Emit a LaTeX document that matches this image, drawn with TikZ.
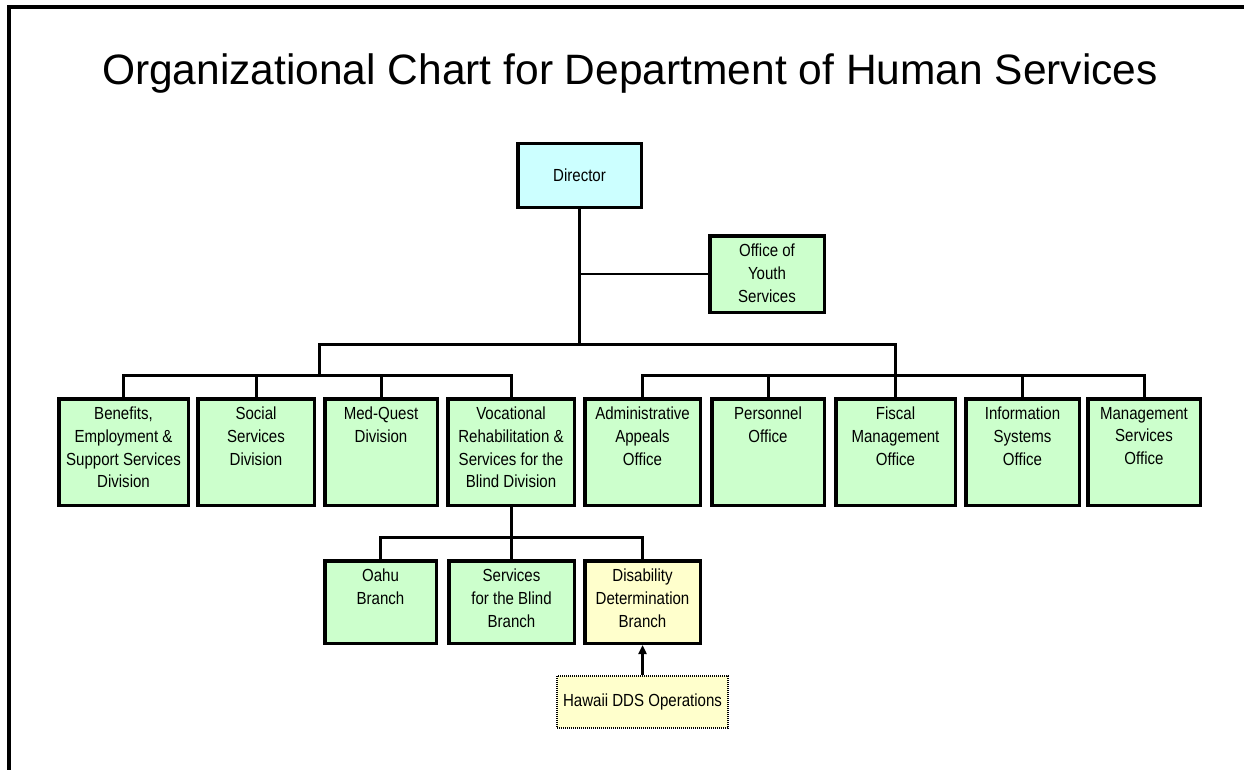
\documentclass[tikz,border=0pt]{standalone}
\usepackage{fontspec}
\setmainfont{Liberation Sans}
\newfontfamily\boxfont[FakeStretch=0.86]{Liberation Sans}
\usepackage{tikz}
\usetikzlibrary{arrows.meta}

\definecolor{boxgreen}{HTML}{CCFFCC}
\definecolor{boxcyan}{HTML}{CCFFFF}
\definecolor{boxyellow}{HTML}{FFFFCC}

% text block pinned to the top of a box
\newcommand{\topbox}[3]{\parbox[c][#2][t]{#1}{\centering\vspace{8.5pt}#3}}

\tikzset{
  orgbox/.style={draw, line width=3.5pt, inner sep=0pt,
    font=\boxfont\fontsize{17.5}{22.6}\selectfont},
  greenbox/.style={orgbox, fill=boxgreen},
  conn/.style={line width=3pt},
  thinconn/.style={line width=1.5pt}
}

\begin{document}
\begin{tikzpicture}[x=1pt, y=-1pt]
                \useasboundingbox (0,0) rectangle (1244,770);
                \draw[line width=4pt] (8.8,775) -- (8.8,7) -- (1250,7);

                % Title
                \node[anchor=base, font=\fontsize{42.5}{50}\selectfont] (title) at (630,85)
                    {Organizational Chart for Department of Human Services};

                % Nodes
                \node[orgbox, fill=boxcyan, minimum width=123.5pt, minimum height=63.5pt] (dir) at (579.5,175.5) {Director};
                \node[greenbox] (ys) at (767,274) {\topbox{114.5pt}{76.5pt}{Office of\\ Youth\\ Services}};

                \node[greenbox] (ben) at (123.5,452) {\topbox{129.5pt}{106.5pt}{Benefits,\\ Employment \&\\ Support Services\\ Division}};
                \node[greenbox] (soc) at (256,452) {\topbox{116.5pt}{106.5pt}{Social\\ Services\\ Division}};
                \node[greenbox] (med) at (381,452) {\topbox{112.5pt}{106.5pt}{Med-Quest\\ Division}};
                \node[greenbox] (voc) at (511,452) {\topbox{126.5pt}{106.5pt}{Vocational\\ Rehabilitation \&\\ Services for the\\ Blind Division}};
                \node[greenbox] (adm) at (642.5,452) {\topbox{115.5pt}{106.5pt}{Administrative\\ Appeals\\ Office}};
                \node[greenbox] (per) at (768,452) {\topbox{112.5pt}{106.5pt}{Personnel\\ Office}};
                \node[greenbox] (fis) at (895.5,452) {\topbox{119.5pt}{106.5pt}{Fiscal\\ Management\\ Office}};
                \node[greenbox] (inf) at (1022.5,452) {\topbox{113.5pt}{106.5pt}{Information\\ Systems\\ Office}};
                \node[greenbox] (mgt) at (1144,452) {\topbox{112.5pt}{106.5pt}{Management\\ Services\\ Office}};

                \node[greenbox] (oahu) at (380.5,602) {\topbox{111.5pt}{82.5pt}{Oahu\\ Branch}};
                \node[greenbox] (sbb) at (511.5,602) {\topbox{125.5pt}{82.5pt}{Services\\ for the Blind\\ Branch}};
                \node[orgbox, fill=boxyellow] (dbb) at (642.5,602) {\topbox{115.5pt}{82.5pt}{Disability\\ Determination\\ Branch}};

                \node[orgbox, fill=boxyellow, line width=2pt, dash pattern=on 1pt off 1pt,
                      minimum width=171pt, minimum height=52pt] (dds) at (642.5,702) {Hawaii DDS Operations};

                % Junctions
                \coordinate (jtop) at (579.5,344);
                \coordinate (jleft) at (319,375);
                \coordinate (jright) at (895.5,375);
                \coordinate (jvoc) at (511,537);

                % Edges
                \draw[conn] (dir.south) -- (jtop);
                \draw[thinconn] (dir.south |- ys.west) -- (ys.west);
                \draw[conn] (jleft) -- (jleft |- jtop) -- (jright |- jtop) -- (jright);

                \draw[conn] (ben.north) -- (ben.north |- jleft) -- (voc.north |- jleft) -- (voc.north);
                \draw[conn] (soc.north) -- (soc.north |- jleft);
                \draw[conn] (med.north) -- (med.north |- jleft);

                \draw[conn] (adm.north) -- (adm.north |- jright) -- (mgt.north |- jright) -- (mgt.north);
                \draw[conn] (per.north) -- (per.north |- jright);
                \draw[conn] (fis.north) -- (jright);
                \draw[conn] (inf.north) -- (inf.north |- jright);

                \draw[conn] (voc.south) -- (jvoc);
                \draw[conn] (oahu.north) -- (oahu.north |- jvoc) -- (dbb.north |- jvoc) -- (dbb.north);
                \draw[conn] (sbb.north) -- (sbb.north |- jvoc);

                \draw[-{Triangle[length=9pt, width=8pt]}, line width=2.5pt] (dds.north) -- (dbb.south);
            \end{tikzpicture}
\end{document}
